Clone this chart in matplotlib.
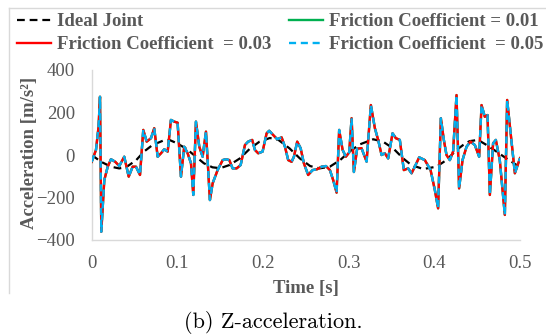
import matplotlib
matplotlib.use("Agg")
import matplotlib.pyplot as plt
from matplotlib.lines import Line2D

# Ideal joint acceleration (smooth reference)
t_ideal = [0.000, 0.011, 0.0225, 0.032, 0.040, 0.052, 0.061, 0.071, 0.083, 0.0906,
           0.098, 0.110, 0.1217, 0.131, 0.141, 0.150, 0.161, 0.173, 0.185, 0.196,
           0.208, 0.218, 0.231, 0.243, 0.255, 0.266, 0.278, 0.290, 0.301, 0.313,
           0.3286, 0.340, 0.352, 0.3636, 0.373, 0.387, 0.4026, 0.414, 0.426, 0.4336,
           0.441, 0.451, 0.461, 0.4726, 0.484, 0.496, 0.500]
acc_ideal = [0, -32, -55, -63, -58, -24, 16, 47, 67, 71,
             58, 31, -8, -39, -58, -62, -47, -16, 31, 63,
             80, 71, 31, -16, -52, -63, -55, -24, 16, 50,
             74, 63, 31, -16, -47, -66, -55, -24, 24, 47,
             65, 71, 47, 16, -16, -47, -50]

# Joint with clearance and friction (the three coefficients coincide)
t_fric = [0.000, 0.005, 0.008, 0.0097, 0.0112, 0.0147, 0.0187, 0.0225, 0.0275, 0.0322,
          0.038, 0.0432, 0.0478, 0.0517, 0.0564, 0.0602, 0.0642, 0.0692, 0.073, 0.077,
          0.0809, 0.0847, 0.0887, 0.0925, 0.0964, 0.1003, 0.1042, 0.108, 0.112, 0.1159,
          0.1186, 0.1217, 0.1256, 0.1295, 0.1334, 0.138, 0.1412, 0.147, 0.1529, 0.1567,
          0.1606, 0.1645, 0.1692, 0.1739, 0.1789, 0.1827, 0.1874, 0.1905, 0.1944, 0.1995,
          0.2042, 0.2072, 0.2119, 0.2166, 0.2217, 0.2256, 0.2294, 0.2334, 0.2361, 0.2399,
          0.2439, 0.2477, 0.2527, 0.2579, 0.2632, 0.2684, 0.2734, 0.2781, 0.2819, 0.2859,
          0.2889, 0.2929, 0.2967, 0.3006, 0.3034, 0.3061, 0.3099, 0.315, 0.3209, 0.3259,
          0.3306, 0.3344, 0.3384, 0.3422, 0.3461, 0.3512, 0.3551, 0.3597, 0.3644, 0.3694,
          0.3734, 0.3772, 0.3823, 0.3889, 0.3956, 0.4006, 0.4044, 0.4076, 0.4111, 0.4142,
          0.4181, 0.4219, 0.4259, 0.4289, 0.4329, 0.4376, 0.4422, 0.4473, 0.4523, 0.4551,
          0.4589, 0.4621, 0.4648, 0.4686, 0.4718, 0.4764, 0.4823, 0.485, 0.494, 0.500]
acc_mu001 = [-32, 24, 133, 274, -361, -118, -55, -20, -32, -52,
             -8, -102, -55, -55, -94, 118, 63, 79, 126, -8,
             8, 27, 16, 165, 157, 152, -102, 39, 8, -39,
             -188, 157, 39, -8, 110, -212, -133, -71, -24, -20,
             -24, -63, -63, -47, 47, 63, 71, 24, 8, 16,
             102, 114, 94, 74, 83, 39, -24, -32, -8, 63,
             32, -39, -94, -71, -67, -55, -52, -71, -118, -177,
             118, 24, -8, 12, 173, -80, 30, 32, -31, 235,
             126, 71, 0, 8, -16, 102, 79, 71, -71, -63,
             -86, -55, -11, -24, -71, -165, -251, 173, 71, 0,
             -24, 16, 282, -157, -24, 39, 63, 47, -8, 235,
             180, 188, -188, 55, 71, -24, -282, 259, -86, -15]
acc_mu003 = list(acc_mu001)
acc_mu005 = list(acc_mu001)

labels = ["Ideal Joint", "Friction Coefficient = 0.01",
          "Friction Coefficient  = 0.03", "Friction Coefficient  = 0.05"]
x_ticks = [0, 0.1, 0.2, 0.3, 0.4, 0.5]
x_ticklabels = ["0", "0.1", "0.2", "0.3", "0.4", "0.5"]
y_ticks = [-400, -200, 0, 200, 400]

W, H = 546, 336
fig = plt.figure(figsize=(W / 100, H / 100), dpi=100)
ax = fig.add_axes([91.7 / W, 1 - 240 / H, (520 - 91.7) / W, 170 / H])

gray = "#595959"
serif = "Liberation Serif"
fs = 13.5

l_ideal, = ax.plot(t_ideal, acc_ideal, color="black", lw=1.6, dashes=(3.5, 2.2), zorder=2)
l_001, = ax.plot(t_fric, acc_mu001, color="#00b050", lw=1.7, zorder=3)
l_003, = ax.plot(t_fric, acc_mu003, color="#ff0000", lw=1.7, zorder=4)
l_005, = ax.plot(t_fric, acc_mu005, color="#00b0f0", lw=1.7, dashes=(3.0, 2.0), zorder=5)

ax.set_xlim(0, 0.5)
ax.set_ylim(-400, 400)
ax.set_xticks(x_ticks)
ax.set_xticklabels(x_ticklabels)
ax.set_yticks(y_ticks)
ax.tick_params(length=0, labelsize=fs, labelcolor=gray)
ax.tick_params(axis="y", pad=12)
ax.tick_params(axis="x", pad=11)
for lab in ax.get_xticklabels() + ax.get_yticklabels():
    lab.set_fontfamily(serif)
for side in ("top", "right"):
    ax.spines[side].set_visible(False)
for side in ("left", "bottom"):
    ax.spines[side].set_color("#d9d9d9")
    ax.spines[side].set_linewidth(1.0)

fig.text(306 / W, 1 - 289 / H, "Time [s]", fontfamily=serif, fontweight="bold",
         fontsize=fs, color=gray, ha="center", va="center")
fig.text(30 / W, 1 - 153 / H, "Acceleration [m/s²]", fontfamily=serif,
         fontweight="bold", fontsize=fs, color=gray, ha="center", va="center",
         rotation=90)

handles = [l_ideal, l_003, l_001, l_005]
hlabels = [labels[0], labels[2], labels[1], labels[3]]
fig.legend(handles, hlabels, ncol=2, loc="upper left",
           bbox_to_anchor=(17 / W, 1 - 13 / H), frameon=False,
           prop={"family": serif, "weight": "bold", "size": fs},
           labelcolor=gray, handlelength=1.8, handletextpad=0.32,
           columnspacing=0.95, labelspacing=0.32, borderaxespad=0, borderpad=0)

# chart area border
border = "#d9d9d9"
fig.add_artist(Line2D([9 / W, 1.0], [1 - 7.5 / H, 1 - 7.5 / H],
                      transform=fig.transFigure, color=border, lw=1))
fig.add_artist(Line2D([9 / W, 9 / W], [1 - 7.5 / H, 1 - 293 / H],
                      transform=fig.transFigure, color=border, lw=1))

fig.text(0.5, 1 - 323 / H, "(b) Z-acceleration.", fontfamily="cmr10",
         fontsize=16, color="black", ha="center", va="center")

fig.savefig("out.png", dpi=100)
